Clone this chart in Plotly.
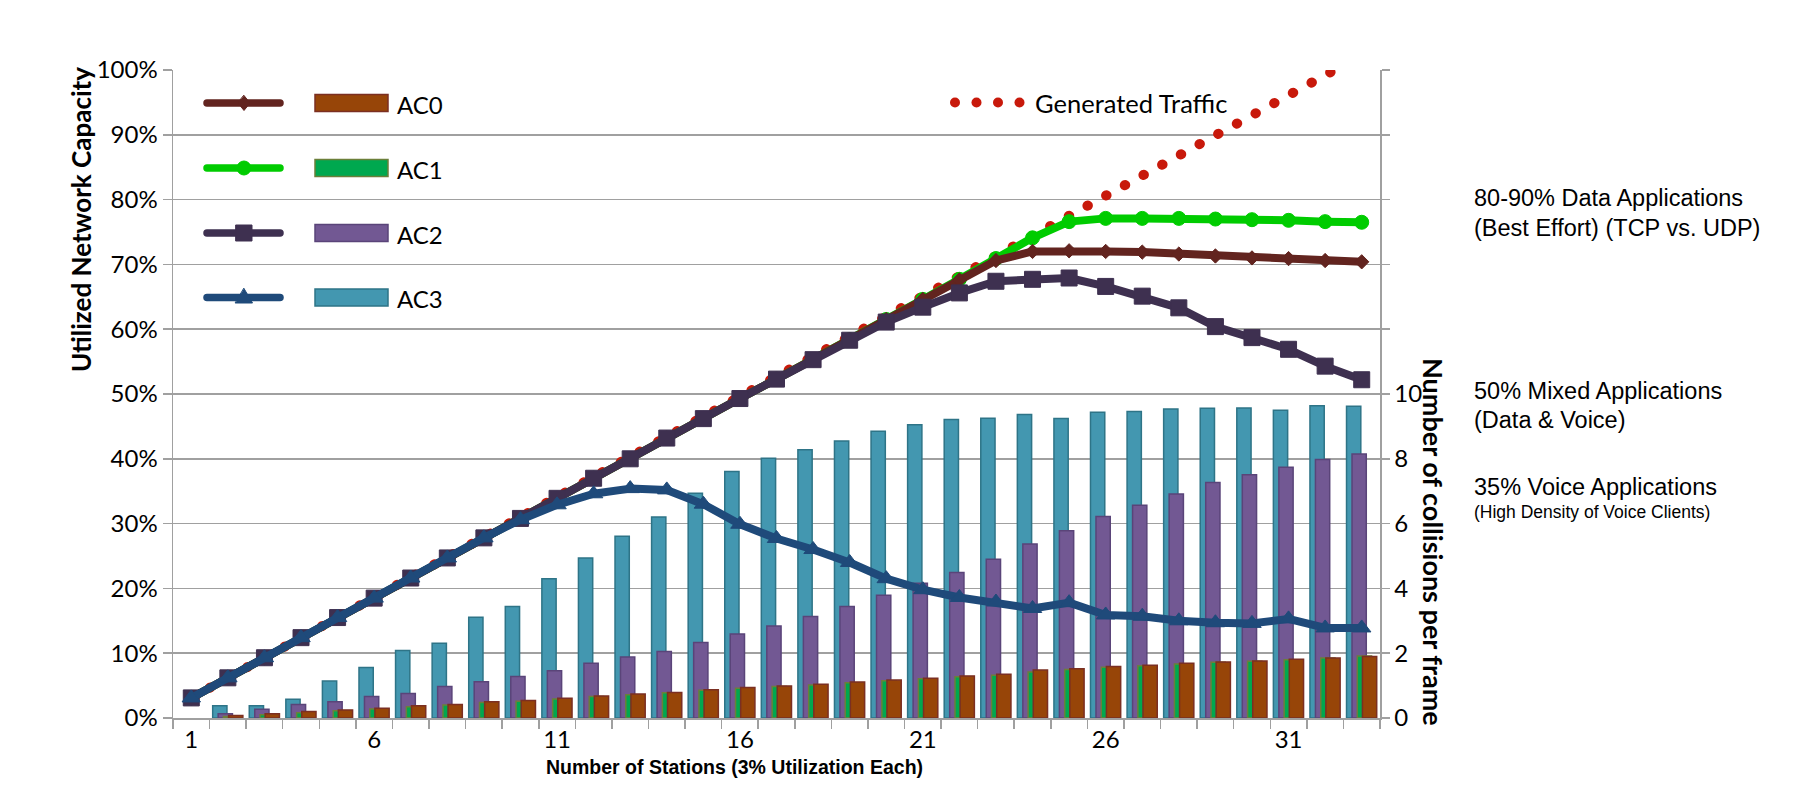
import plotly.graph_objects as go

# ---------------- data ----------------
stations = [1, 2, 3, 4, 5, 6, 7, 8, 9, 10, 11, 12, 13, 14, 15, 16, 17,
            18, 19, 20, 21, 22, 23, 24, 25, 26, 27, 28, 29, 30, 31, 32, 33]
x_tick_labels = [1, 6, 11, 16, 21, 26, 31]

series_names = ["AC0", "AC1", "AC2", "AC3"]

# Utilized network capacity (%), left axis
util_ac0 = [3.1, 6.2, 9.3, 12.4, 15.5, 18.5, 21.6, 24.7, 27.8, 30.8, 33.9, 37.0, 40.0, 43.2, 46.2, 49.3, 52.3,
            55.3, 58.4, 61.5, 64.6, 67.6, 70.6, 72.0, 72.1, 72.0, 71.9, 71.6, 71.3, 71.0, 70.9, 70.6, 70.4]
util_ac1 = [3.1, 6.2, 9.3, 12.4, 15.5, 18.5, 21.6, 24.7, 27.8, 30.8, 33.9, 37.0, 40.0, 43.2, 46.2, 49.3, 52.3,
            55.3, 58.4, 61.5, 64.6, 67.7, 70.9, 74.1, 76.6, 77.1, 77.1, 77.1, 77.0, 76.9, 76.8, 76.6, 76.5]
util_ac2 = [3.1, 6.2, 9.3, 12.4, 15.5, 18.5, 21.6, 24.7, 27.8, 30.8, 33.9, 37.0, 40.0, 43.2, 46.2, 49.3, 52.3,
            55.3, 58.3, 61.1, 63.4, 65.6, 67.4, 67.7, 67.9, 66.6, 65.1, 63.3, 60.4, 58.7, 56.9, 54.3, 52.2]
util_ac3 = [3.1, 6.2, 9.3, 12.4, 15.5, 18.5, 21.6, 24.7, 27.8, 30.6, 32.9, 34.6, 35.4, 35.2, 33.0, 29.9, 27.7,
            26.0, 24.0, 21.5, 19.8, 18.6, 17.9, 16.9, 17.8, 15.9, 15.7, 15.0, 14.7, 14.6, 15.3, 13.9, 13.9]
generated = [3.1, 6.2, 9.3, 12.4, 15.5, 18.6, 21.7, 24.8, 27.9, 31.0, 34.1, 37.2, 40.3, 43.4, 46.5, 49.6, 52.7,
             55.8, 58.9, 62.0, 65.1, 68.2, 71.3, 74.4, 77.5, 80.6, 83.7, 86.8, 89.9, 93.0, 96.1, 99.2, 102.3]

# Number of collisions per frame, right axis (no bar at station 1)
coll_ac0 = [None, 0.08, 0.13, 0.20, 0.25, 0.30, 0.38, 0.42, 0.50, 0.54, 0.61, 0.68, 0.74, 0.79, 0.87, 0.94, 0.99,
            1.04, 1.11, 1.17, 1.23, 1.30, 1.35, 1.48, 1.52, 1.59, 1.63, 1.69, 1.73, 1.76, 1.81, 1.85, 1.90]
coll_ac1 = [None, 0.05, 0.10, 0.16, 0.22, 0.28, 0.35, 0.40, 0.48, 0.52, 0.59, 0.66, 0.72, 0.78, 0.86, 0.92, 0.97,
            1.02, 1.09, 1.15, 1.21, 1.27, 1.32, 1.42, 1.50, 1.57, 1.61, 1.67, 1.72, 1.75, 1.80, 1.85, 1.91]
coll_ac2 = [None, 0.13, 0.27, 0.42, 0.50, 0.66, 0.76, 0.97, 1.12, 1.28, 1.46, 1.69, 1.88, 2.05, 2.33, 2.59, 2.84,
            3.13, 3.44, 3.79, 4.16, 4.49, 4.90, 5.37, 5.78, 6.22, 6.57, 6.91, 7.27, 7.51, 7.74, 7.98, 8.15]
coll_ac3 = [None, 0.38, 0.38, 0.58, 1.14, 1.56, 2.08, 2.31, 3.11, 3.44, 4.30, 4.94, 5.61, 6.20, 6.94, 7.61, 8.02,
            8.28, 8.55, 8.85, 9.05, 9.21, 9.25, 9.37, 9.24, 9.44, 9.46, 9.54, 9.56, 9.57, 9.50, 9.64, 9.62]

util_ticks = [0, 10, 20, 30, 40, 50, 60, 70, 80, 90, 100]
util_tick_text = ["0%", "10%", "20%", "30%", "40%", "50%", "60%", "70%", "80%", "90%", "100%"]
coll_ticks = [0, 2, 4, 6, 8, 10, 12, 14, 16, 18, 20]
coll_tick_text = ["0", "2", "4", "6", "8", "10", "", "", "", "", ""]

side_notes = [
    ("80-90% Data Applications", 198, 23.5),
    ("(Best Effort) (TCP vs. UDP)", 228, 23.5),
    ("50% Mixed Applications", 391, 23.5),
    ("(Data & Voice)", 420, 23.5),
    ("35% Voice Applications", 487, 23.5),
    ("(High Density of Voice Clients)", 512, 17.5),
]

# ---------------- styles ----------------
line_col = {"AC0": "#62241f", "AC1": "#00cc00", "AC2": "#3e3050", "AC3": "#1f4a7a"}
bar_fill = {"AC0": "#974508", "AC1": "#00a84f", "AC2": "#725893", "AC3": "#4397b0"}
bar_edge = {"AC0": "#7b2f22", "AC1": "#6b7f3a", "AC2": "#5a4479", "AC3": "#2e7487"}
symbols = {"AC0": ("diamond", 11), "AC1": ("circle", 14), "AC2": ("square", 16), "AC3": ("triangle-up", 16)}
gen_col = "#c8190b"
grid_col = "#a0a0a0"
FONT = "Lato"

BAR_W = 0.39
bar_offset = {"AC3": -0.415, "AC2": -0.265, "AC1": -0.12, "AC0": 0.02}

util = {"AC0": util_ac0, "AC1": util_ac1, "AC2": util_ac2, "AC3": util_ac3}
coll = {"AC0": coll_ac0, "AC1": coll_ac1, "AC2": coll_ac2, "AC3": coll_ac3}

fig = go.Figure()

# bars (collisions) on the right axis 'y'
for name in ["AC3", "AC2", "AC1", "AC0"]:
    fig.add_trace(go.Bar(
        x=stations, y=coll[name], name=name, yaxis="y", xaxis="x",
        width=BAR_W, offset=bar_offset[name],
        marker=dict(color=bar_fill[name], line=dict(color=bar_edge[name], width=1.5)),
        showlegend=False,
    ))

# generated traffic (dotted)
fig.add_trace(go.Scatter(
    x=stations, y=generated, name="Generated Traffic", yaxis="y2", xaxis="x",
    mode="lines", line=dict(color=gen_col, width=10, dash="10px,11.3px"),
    showlegend=False,
))

# utilization lines on the left axis 'y2'
for name in ["AC1", "AC0", "AC2", "AC3"]:
    sym, size = symbols[name]
    fig.add_trace(go.Scatter(
        x=stations, y=util[name], name=name, yaxis="y2", xaxis="x",
        mode="lines+markers",
        line=dict(color=line_col[name], width=8),
        marker=dict(symbol=sym, size=size, color=line_col[name], line=dict(color=line_col[name], width=1)),
        showlegend=False,
    ))

# ---------------- layout ----------------
PL, PR, PT, PB = 173, 1380, 70, 718
W, H = 1800, 786


def px(x):
    return (x - PL) / (PR - PL)


def py(y):
    return (PB - y) / (PB - PT)


shapes = []
annotations = []

# custom legend (line+marker, swatch, label)
legend_rows = {"AC0": 103, "AC1": 168, "AC2": 233, "AC3": 297.5}
for name in series_names:
    ry = legend_rows[name]
    c = line_col[name]
    shapes.append(dict(type="line", xref="paper", yref="paper", x0=px(207), x1=px(280), y0=py(ry), y1=py(ry),
                       line=dict(color=c, width=7.5)))
    base = dict(xref="paper", yref="paper", xsizemode="pixel", ysizemode="pixel",
                xanchor=px(244), yanchor=py(ry), fillcolor=c, line=dict(color=c, width=1))
    if name == "AC0":
        shapes.append(dict(type="path", path="M0,7.5 L6,0 L0,-7.5 L-6,0 Z", **base))
    elif name == "AC1":
        shapes.append(dict(type="circle", x0=-7, x1=7, y0=-7, y1=7, **base))
    elif name == "AC2":
        shapes.append(dict(type="rect", x0=-8, x1=8, y0=-8, y1=8, **base))
    else:
        shapes.append(dict(type="path", path="M-8.5,-5.5 L8.5,-5.5 L0,9 Z", **base))
    shapes.append(dict(type="rect", xref="paper", yref="paper", x0=px(315), x1=px(388),
                       y0=py(ry + 8.5), y1=py(ry - 8.5), fillcolor=bar_fill[name],
                       line=dict(color=bar_edge[name], width=1.5)))
    annotations.append(dict(text=name, xref="paper", yref="paper", x=px(395), y=py(ry + 1),
                            xanchor="left", yanchor="middle", showarrow=False,
                            font=dict(family=FONT, size=24, color="black")))

# generated traffic legend
for dx in [955, 976.5, 998, 1019.5]:
    shapes.append(dict(type="circle", xref="paper", yref="paper", xsizemode="pixel", ysizemode="pixel",
                       xanchor=px(dx), yanchor=py(102.5), x0=-5, x1=5, y0=-5, y1=5,
                       fillcolor=gen_col, line=dict(color=gen_col, width=0)))
annotations.append(dict(text="Generated Traffic", xref="paper", yref="paper", x=px(1033), y=py(103.5),
                        xanchor="left", yanchor="middle", showarrow=False,
                        font=dict(family=FONT, size=25.5, color="black")))

# axis titles
annotations.append(dict(text="<b>Utilized Network Capacity</b>", xref="paper", yref="paper",
                        x=px(81), y=py(220), textangle=-90, xanchor="center", yanchor="middle",
                        showarrow=False, font=dict(family=FONT, size=26, color="black")))
annotations.append(dict(text="<b>Number of collisions per frame</b>", xref="paper", yref="paper",
                        x=px(1434), y=py(542), textangle=90, xanchor="center", yanchor="middle",
                        showarrow=False, font=dict(family=FONT, size=27, color="black")))
annotations.append(dict(text="<b>Number of Stations (3% Utilization Each)</b>", xref="paper", yref="paper",
                        x=px(734), y=py(767), xanchor="center", yanchor="middle",
                        showarrow=False, font=dict(family="Liberation Sans", size=19.5, color="black")))

# side notes
for txt, yy, fs in side_notes:
    annotations.append(dict(text=txt, xref="paper", yref="paper", x=px(1472), y=py(yy),
                            xanchor="left", yanchor="middle", showarrow=False,
                            font=dict(family="Liberation Sans", size=fs, color="black")))

fig.update_layout(
    width=W, height=H,
    margin=dict(l=PL, r=W - PR, t=PT, b=H - PB, pad=0),
    paper_bgcolor="white", plot_bgcolor="white",
    barmode="overlay",
    showlegend=False,
    font=dict(family=FONT, size=24, color="black"),
    xaxis=dict(
        range=[0.5, 33.5], tickmode="array", tickvals=x_tick_labels,
        ticktext=[str(v) for v in x_tick_labels], ticks="", showgrid=False, zeroline=False,
        showline=True, linecolor=grid_col, linewidth=1.5,
        tickfont=dict(family=FONT, size=24, color="black"),
        minor=dict(tickmode="array", tickvals=[s - 0.5 for s in stations] + [stations[-1] + 0.5],
                   ticks="outside", ticklen=9, tickcolor=grid_col, tickwidth=1.5, showgrid=False),
    ),
    yaxis=dict(
        side="right", range=[0, 20], tickmode="array", tickvals=coll_ticks, ticktext=coll_tick_text,
        ticks="outside", ticklen=8, tickcolor=grid_col, tickwidth=1.5,
        showgrid=False, zeroline=False, showline=True, linecolor=grid_col, linewidth=1.5,
        tickfont=dict(family=FONT, size=24, color="black"),
    ),
    yaxis2=dict(
        overlaying="y", side="left", range=[0, 100], tickmode="array", tickvals=util_ticks,
        ticktext=util_tick_text, ticks="outside", ticklen=9, tickcolor=grid_col, tickwidth=1.5,
        showgrid=True, gridcolor=grid_col, gridwidth=1.5, zeroline=False,
        showline=True, linecolor=grid_col, linewidth=1.5,
        tickfont=dict(family=FONT, size=24, color="black"),
    ),
    shapes=shapes,
    annotations=annotations,
)

post = """
document.body.style.margin = '0';
var gd = document.getElementById('{plot_id}');
gd.querySelectorAll('.scatterlayer path.js-line').forEach(function(p){
  p.style.strokeLinejoin = 'round';
  p.style.strokeLinecap = 'round';
  var d = p.style.strokeDasharray || '';
  if (d.indexOf('11.3') >= 0) { p.style.strokeDasharray = '0.5px, 20.8px'; }
});
gd.querySelectorAll('.shapelayer path').forEach(function(p){ p.style.strokeLinecap = 'round'; });
"""

fig.write_html("out.html", post_script=post, config={"displayModeBar": False, "staticPlot": True})
